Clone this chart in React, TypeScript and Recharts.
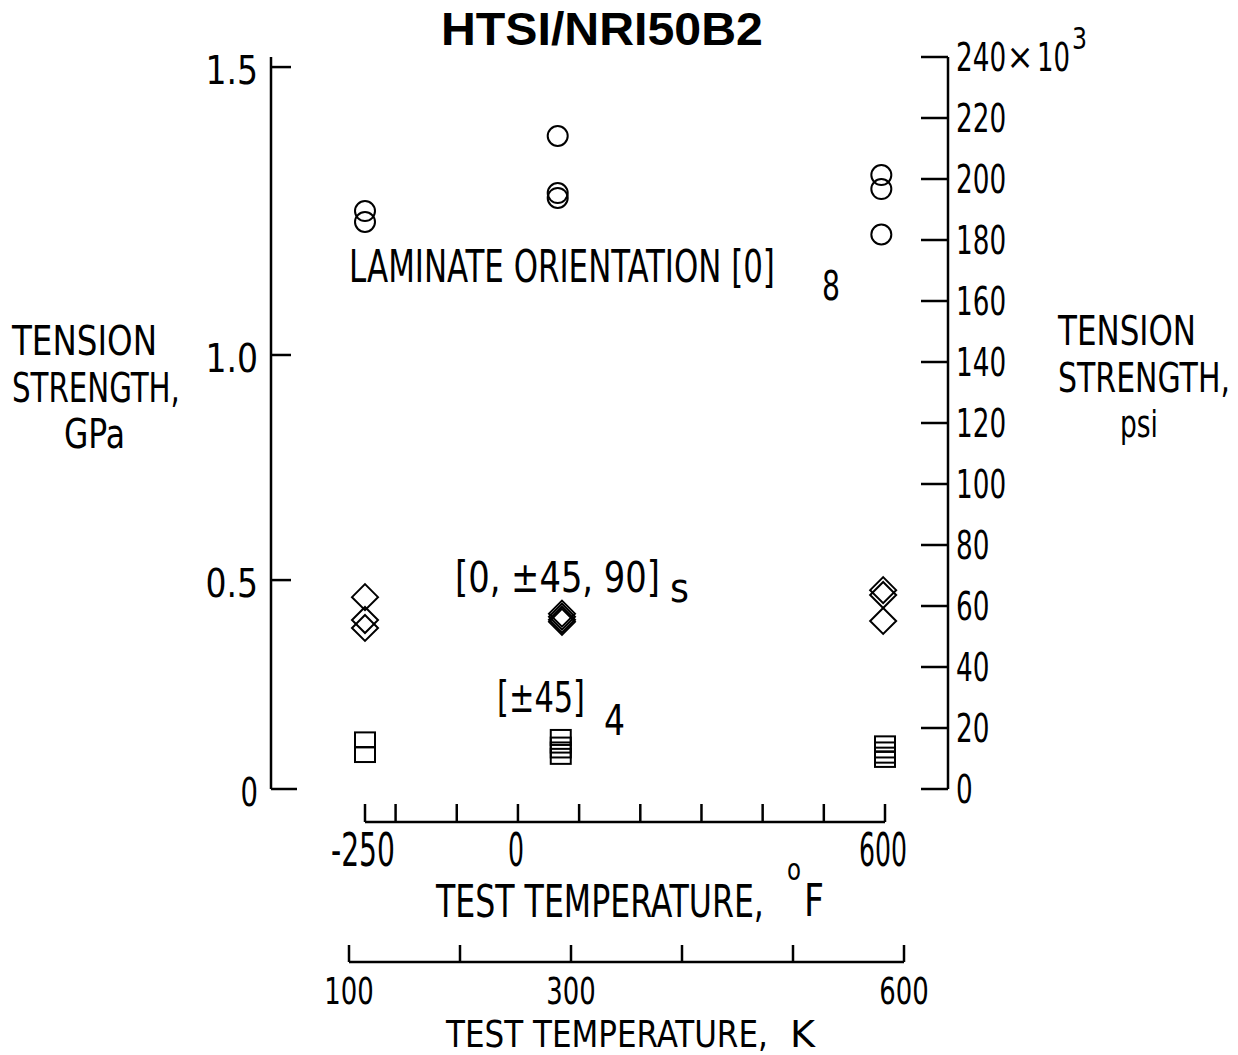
import React, { useLayoutEffect, useRef, useState } from "react";
import { ScatterChart, Scatter, XAxis, YAxis } from "recharts";

// test temperature (deg F) and tension strength (ksi)
const circleTempF = [-250, -250, 65, 65, 65, 594, 594, 594];
const circleKsi = [189.5, 185.9, 214.1, 195.4, 193.8, 201.3, 196.7, 181.8];

const diamondTempF = [-250, -250, -250, 72, 72, 72, 72, 597, 597, 597];
const diamondKsi = [62.9, 55.4, 52.8, 57.5, 56.5, 55.5, 54.8, 65.2, 63.6, 55.1];

const squareTempF = [-250, -250, 70, 70, 70, 70, 600, 600, 600, 600];
const squareKsi = [16.1, 11.3, 16.9, 14.4, 12.8, 10.7, 14.8, 12.8, 11.1, 9.7];

// axes
const psiTicks = [0, 20, 40, 60, 80, 100, 120, 140, 160, 180, 200, 220, 240];
const gpaTickLabels = ["0", "0.5", "1.0", "1.5"];
const gpaTickKsi = [0, 68.5, 142.3, 236.7]; // where the GPa ticks sit on the psi scale, as drawn
const fTicks = [-250, -200, -100, 0, 100, 200, 300, 400, 500, 600];
const fLabeled = [-250, 0, 600];
const kTicks = [100, 200, 300, 400, 500, 600];
const kLabeled = [100, 300, 600];

const FONT = "'Liberation Sans Narrow', 'DejaVu Sans Condensed', 'Liberation Sans', sans-serif";
const INK = "#000";

const circles = circleTempF.map((t, i) => ({ t, ksi: circleKsi[i] }));
const diamonds = diamondTempF.map((t, i) => ({ t, ksi: diamondKsi[i] }));
const squares = squareTempF.map((t, i) => ({ t, ksi: squareKsi[i] }));
// invisible helpers so the series-less axes get ticks
const gpaAnchors = gpaTickKsi.map((ksi) => ({ t: fTicks[0], ksi }));
const kAnchors = kTicks.map((k) => ({ k, y: 0 }));

const CircleMark = ({ cx, cy }: any) => (
  <circle cx={cx} cy={cy} r={10} fill="none" stroke={INK} strokeWidth={2} />
);
const DiamondMark = ({ cx, cy }: any) => (
  <path
    d={`M${cx},${cy - 13}L${cx + 13},${cy}L${cx},${cy + 13}L${cx - 13},${cy}Z`}
    fill="none"
    stroke={INK}
    strokeWidth={2}
  />
);
const SquareMark = ({ cx, cy }: any) => (
  <rect x={cx - 10} y={cy - 7.5} width={20} height={15} fill="none" stroke={INK} strokeWidth={2} />
);
const NoMark = () => <g />;

// text squeezed horizontally to width w (the figure's lettering is very condensed)
function T({ x, y, w, size = 44, anchor = "start", weight = "normal", family = FONT, children }: any) {
  const ref = useRef<SVGTextElement>(null);
  const [sx, setSx] = useState(1);
  useLayoutEffect(() => {
    if (!w || !ref.current) return;
    const natural = ref.current.getComputedTextLength();
    if (natural > 0) setSx(w / natural);
  }, [w, size, children]);
  return (
    <text
      ref={ref}
      x={0}
      y={0}
      transform={`translate(${x},${y}) scale(${sx},1)`}
      fontSize={size}
      fontFamily={family}
      fontWeight={weight}
      textAnchor={anchor}
      fill={INK}
    >
      {children}
    </text>
  );
}

function GpaTick({ x, y, payload }: any) {
  const i = gpaTickKsi.indexOf(payload.value);
  const label = gpaTickLabels[i];
  if (!label) return <g />;
  return (
    <g>
      <line x1={x} x2={x + (i === 0 ? 26 : 20)} y1={y} y2={y} stroke={INK} strokeWidth={2.5} />
      <T x={x - 13} y={y + 17} w={label.length * 17.5} size={39} anchor="end">
        {label}
      </T>
    </g>
  );
}

function PsiTick({ x, y, payload }: any) {
  const v = payload.value;
  const s = String(v);
  return (
    <g>
      <line x1={x - 27} x2={x} y1={y} y2={y} stroke={INK} strokeWidth={2.5} />
      <T x={x + 8} y={y + 14} w={s.length * 16.7} size={39}>
        {s}
      </T>
      {v === 240 && (
        <>
          <T x={1020} y={y + 12} size={36} anchor="middle">
            ×
          </T>
          <T x={1037} y={y + 14} w={33} size={39}>
            10
          </T>
          <T x={1072} y={y - 8} w={15} size={30}>
            3
          </T>
        </>
      )}
    </g>
  );
}

function FTick({ x, y, payload }: any) {
  const v = payload.value;
  const s = String(v);
  return (
    <g>
      <line x1={x} x2={x} y1={y} y2={y - 18} stroke={INK} strokeWidth={2.5} />
      {fLabeled.includes(v) && (
        <T x={x - 2} y={y + 44} w={v < 0 ? 64 : s.length * 16} size={46} anchor="middle">
          {s}
        </T>
      )}
    </g>
  );
}

function KTick({ x, y, payload }: any) {
  const v = payload.value;
  const s = String(v);
  return (
    <g>
      <line x1={x} x2={x} y1={y} y2={y - 17} stroke={INK} strokeWidth={2.5} />
      {kLabeled.includes(v) && (
        <T x={x} y={y + 41.5} w={s.length * 16.5} size={38} anchor="middle">
          {s}
        </T>
      )}
    </g>
  );
}

const axisLine = { stroke: INK, strokeWidth: 2.5 };
const layer: React.CSSProperties = { position: "absolute", left: 0, top: 0 };

export default function App() {
  return (
    <div style={{ ...layer, width: 1238, height: 1055, background: "#fff" }}>
      <div style={layer}>
        <ScatterChart width={1238} height={1055} margin={{ top: 57, right: 0, bottom: 100, left: 0 }}>
          <XAxis xAxisId="a_gap" type="number" domain={[-250, 600]} height={33} axisLine={false} tickLine={false} tick={false} />
          <XAxis
            xAxisId="b_f"
            dataKey="t"
            type="number"
            domain={[-250, 600]}
            ticks={fTicks}
            interval={0}
            height={133}
            axisLine={axisLine}
            tickLine={false}
            tickSize={0}
            tickMargin={0}
            tick={<FTick />}
          />
          <YAxis yAxisId="a_padL" type="number" domain={[0, 1]} width={94} axisLine={false} tickLine={false} tick={false} />
          <YAxis
            yAxisId="b_gpa"
            dataKey="ksi"
            type="number"
            domain={[0, 240]}
            ticks={gpaTickKsi}
            interval={0}
            width={271}
            axisLine={axisLine}
            tickLine={false}
            tickSize={0}
            tickMargin={0}
            tick={<GpaTick />}
          />
          <YAxis yAxisId="a_padR" orientation="right" type="number" domain={[0, 1]} width={63} axisLine={false} tickLine={false} tick={false} />
          <YAxis
            yAxisId="b_psi"
            orientation="right"
            dataKey="ksi"
            type="number"
            domain={[0, 240]}
            ticks={psiTicks}
            interval={0}
            width={290}
            axisLine={axisLine}
            tickLine={false}
            tickSize={0}
            tickMargin={0}
            tick={<PsiTick />}
          />
          <Scatter xAxisId="b_f" yAxisId="b_gpa" data={gpaAnchors} shape={NoMark} isAnimationActive={false} />
          <Scatter xAxisId="b_f" yAxisId="b_psi" data={circles} shape={CircleMark} isAnimationActive={false} />
          <Scatter xAxisId="b_f" yAxisId="b_psi" data={diamonds} shape={DiamondMark} isAnimationActive={false} />
          <Scatter xAxisId="b_f" yAxisId="b_psi" data={squares} shape={SquareMark} isAnimationActive={false} />
        </ScatterChart>
      </div>
      <div style={layer}>
        <ScatterChart width={1238} height={1055} margin={{ top: 900, right: 334, bottom: 0, left: 349 }}>
          <XAxis
            dataKey="k"
            type="number"
            domain={[100, 600]}
            allowDataOverflow
            ticks={kTicks}
            interval={0}
            height={93}
            axisLine={axisLine}
            tickLine={false}
            tickSize={0}
            tickMargin={0}
            tick={<KTick />}
          />
          <YAxis dataKey="y" type="number" domain={[0, 1]} hide />
          <Scatter data={kAnchors} shape={NoMark} isAnimationActive={false} />
        </ScatterChart>
      </div>
      <svg width={1238} height={1055} style={{ ...layer, pointerEvents: "none" }}>
        <T x={441} y={45} w={322} size={46} weight="bold" family="'Liberation Sans', 'DejaVu Sans', sans-serif">
          HTSI/NRI50B2
        </T>
        <T x={12} y={355} w={145} size={41}>TENSION</T>
        <T x={12} y={402} w={168} size={41}>STRENGTH,</T>
        <T x={64} y={448} w={61} size={41}>GPa</T>
        <T x={1058} y={345} w={138} size={41}>TENSION</T>
        <T x={1058} y={392} w={172} size={41}>STRENGTH,</T>
        <T x={1120} y={437} w={38} size={38}>psi</T>
        <T x={349} y={282} w={426}>LAMINATE ORIENTATION [0]</T>
        <T x={822} y={300} w={18} size={40}>8</T>
        <T x={455} y={592} w={205} size={42}>[0,  ±45,  90]</T>
        <T x={670} y={602} w={19} size={40}>s</T>
        <T x={497} y={712} w={88} size={42}>[±45]</T>
        <T x={604} y={735} w={21} size={42}>4</T>
        <T x={436} y={917} w={328}>TEST TEMPERATURE,</T>
        <T x={787} y={880} w={14} size={30}>o</T>
        <T x={804} y={916} w={20}>F</T>
        <T x={446} y={1046.5} w={322} size={38}>TEST TEMPERATURE,</T>
        <T x={790} y={1046.5} w={25} size={38}>K</T>
      </svg>
    </div>
  );
}
